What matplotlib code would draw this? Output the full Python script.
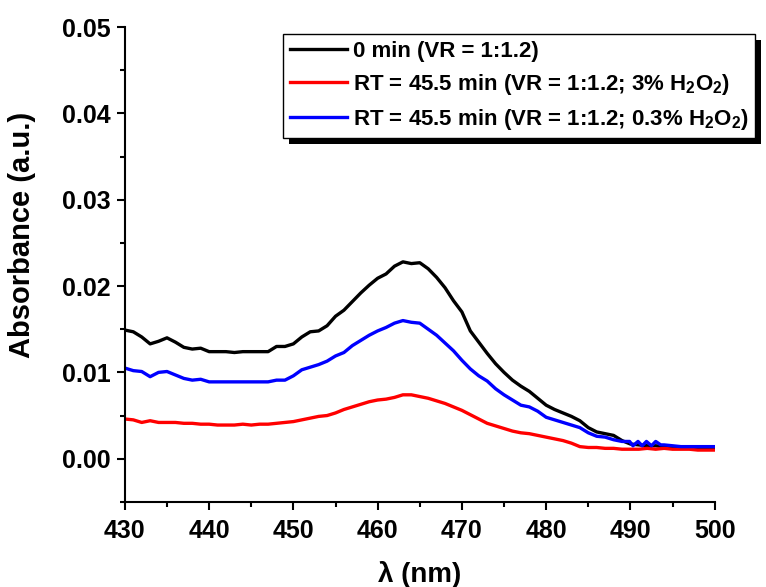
import matplotlib
matplotlib.use("Agg")
import matplotlib.pyplot as plt
from matplotlib.patches import Rectangle
from matplotlib.ticker import MultipleLocator, FormatStrFormatter
import numpy as np

plt.rcParams['font.family'] = ['Liberation Sans', 'DejaVu Sans']
plt.rcParams['font.weight'] = 'bold'
plt.rcParams['mathtext.fontset'] = 'custom'
plt.rcParams['mathtext.rm'] = 'Liberation Sans:bold'
plt.rcParams['mathtext.bf'] = 'Liberation Sans:bold'
plt.rcParams['mathtext.it'] = 'Liberation Sans:bold'

# wavelength grid (nm)
wl = np.arange(430, 501)

abs_0min = [
    0.0149, 0.0147, 0.0141, 0.0133, 0.0136, 0.0140, 0.0135, 0.0129, 0.0127, 0.0128,
    0.0124, 0.0124, 0.0124, 0.0123, 0.0124, 0.0124, 0.0124, 0.0124, 0.0130, 0.0130,
    0.0133, 0.0141, 0.0147, 0.0148, 0.0154, 0.0165, 0.0172, 0.0182, 0.0192, 0.0201,
    0.0209, 0.0214, 0.0223, 0.0228, 0.0226, 0.0227, 0.0220, 0.0210, 0.0198, 0.0183,
    0.0170, 0.0148, 0.0135, 0.0122, 0.0110, 0.0100, 0.0091, 0.0084, 0.0078, 0.0070,
    0.0062, 0.0057, 0.0053, 0.0049, 0.0044, 0.0036, 0.0031, 0.0029, 0.0027, 0.0021,
    0.0017, 0.0016, 0.0015, 0.0015, 0.0014, 0.0014, 0.0013, 0.0013, 0.0013, 0.0013,
    0.0013,
]

abs_3pct = [
    0.0046, 0.0045, 0.0042, 0.0044, 0.0042, 0.0042, 0.0042, 0.0041, 0.0041, 0.0040,
    0.0040, 0.0039, 0.0039, 0.0039, 0.0040, 0.0039, 0.0040, 0.0040, 0.0041, 0.0042,
    0.0043, 0.0045, 0.0047, 0.0049, 0.0050, 0.0053, 0.0057, 0.0060, 0.0063, 0.0066,
    0.0068, 0.0069, 0.0071, 0.0074, 0.0074, 0.0072, 0.0070, 0.0067, 0.0064, 0.0060,
    0.0056, 0.0051, 0.0046, 0.0041, 0.0038, 0.0035, 0.0032, 0.0030, 0.0029, 0.0027,
    0.0025, 0.0023, 0.0021, 0.0018, 0.0014, 0.0013, 0.0013, 0.0012, 0.0012, 0.0011,
    0.0011, 0.0011, 0.0012, 0.0011, 0.0012, 0.0011, 0.0011, 0.0011, 0.0010, 0.0010,
    0.0010,
]

# blue series has a few extra half-nm points where it zigzags
wl_03pct = [430, 431, 432, 433, 434, 435, 436, 437, 438, 439,
            440, 441, 442, 443, 444, 445, 446, 447, 448, 449,
            450, 451, 452, 453, 454, 455, 456, 457, 458, 459,
            460, 461, 462, 463, 464, 465, 466, 467, 468, 469,
            470, 471, 472, 473, 474, 475, 476, 477, 478, 479,
            480, 481, 482, 483, 484, 485, 486, 487, 488, 489,
            489.9, 490.3, 490.9, 491.4, 491.9, 492.5, 493.0, 493.6, 494, 495,
            496, 497, 498, 499, 500]
abs_03pct = [
    0.0105, 0.0102, 0.0101, 0.0095, 0.0100, 0.0101, 0.0097, 0.0093, 0.0091, 0.0092,
    0.0089, 0.0089, 0.0089, 0.0089, 0.0089, 0.0089, 0.0089, 0.0089, 0.0091, 0.0091,
    0.0096, 0.0103, 0.0106, 0.0109, 0.0113, 0.0119, 0.0123, 0.0131, 0.0137, 0.0143,
    0.0148, 0.0152, 0.0157, 0.0160, 0.0158, 0.0157, 0.0150, 0.0143, 0.0134, 0.0125,
    0.0114, 0.0104, 0.0096, 0.0090, 0.0081, 0.0074, 0.0068, 0.0062, 0.0060, 0.0055,
    0.0048, 0.0045, 0.0042, 0.0039, 0.0036, 0.0030, 0.0026, 0.0025, 0.0022, 0.0020,
    0.0020, 0.0015, 0.0020, 0.0015, 0.0020, 0.0015, 0.0020, 0.0016, 0.0016, 0.0015,
    0.0014, 0.0014, 0.0014, 0.0014, 0.0014,
]

labels = [
    "0 min (VR = 1:1.2)",
    "RT = 45.5 min (VR = 1:1.2; 3% H$_{2}$O$_{2}$)",
    "RT = 45.5 min (VR = 1:1.2; 0.3% H$_{2}$O$_{2}$)",
]

fig = plt.figure(figsize=(7.66, 5.87), dpi=100)
ax = fig.add_axes([0.163, 0.145, 0.770, 0.809])

ax.plot(wl, abs_0min, color="black", lw=2.4, label=labels[0])
ax.plot(wl, abs_3pct, color="red", lw=2.4, label=labels[1])
ax.plot(wl_03pct, abs_03pct, color="blue", lw=2.4, label=labels[2])

ax.set_xlim(430, 500)
ax.set_ylim(-0.005, 0.05)
ax.xaxis.set_major_locator(MultipleLocator(10))
ax.xaxis.set_minor_locator(MultipleLocator(5))
ax.yaxis.set_major_locator(MultipleLocator(0.01))
ax.yaxis.set_minor_locator(MultipleLocator(0.005))
ax.yaxis.set_major_formatter(FormatStrFormatter("%.2f"))

for side in ["top", "right"]:
    ax.spines[side].set_visible(False)
for side in ["left", "bottom"]:
    ax.spines[side].set_linewidth(1.5)

ax.tick_params(which="major", direction="out", length=6, width=1.5, labelsize=18)
ax.tick_params(which="minor", direction="out", length=3.5, width=1.5)
ax.tick_params(axis="x", which="major", pad=6)
ax.tick_params(axis="y", which="major", pad=4)
for t in ax.get_xticklabels() + ax.get_yticklabels():
    t.set_fontweight("bold")

ax.set_xlabel("λ (nm)", fontsize=20, fontweight="bold")
ax.set_ylabel("Absorbance (a.u.)", fontsize=21, fontweight="bold")
ax.xaxis.set_label_coords(0.5, -0.125)
ax.yaxis.set_label_coords(-0.15, 0.562)

leg = ax.legend(loc="upper left", bbox_to_anchor=(283 / 766, 1 - 34 / 587),
                bbox_transform=fig.transFigure, fontsize=16, frameon=True,
                fancybox=False, edgecolor="black", framealpha=1,
                handlelength=2.6, handletextpad=0.25, borderpad=0.3,
                labelspacing=0.45, borderaxespad=0)
leg.get_frame().set_linewidth(1.0)
for line in leg.get_lines():
    line.set_linewidth(2.4)

# solid black drop shadow behind the legend box
fig.canvas.draw()
bb = leg.get_frame().get_window_extent()
shadow = Rectangle((bb.x0 + 6, bb.y0 - 6), bb.width, bb.height, transform=None,
                   facecolor="black", edgecolor="none", zorder=leg.get_zorder() - 0.1,
                   clip_on=False)
ax.add_artist(shadow)

fig.savefig("out.png", dpi=100)
